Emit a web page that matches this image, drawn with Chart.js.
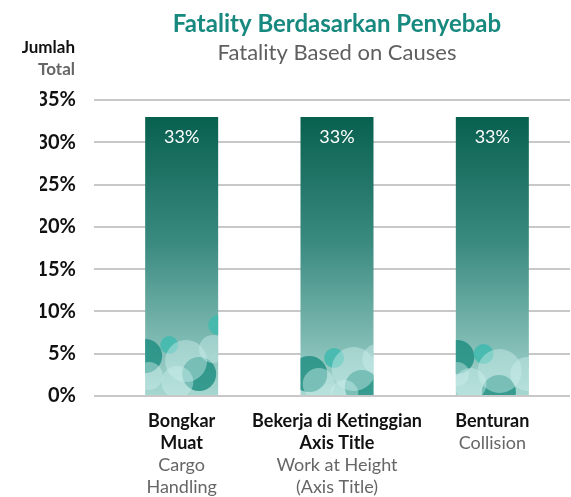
<!DOCTYPE html>
<html>
<head>
<meta charset="utf-8">
<style>
  html, body { margin: 0; background: #fff; }
  #wrap { width: 571px; height: 497px; }
</style>
<script src="https://cdn.jsdelivr.net/npm/chart.js@4/dist/chart.umd.min.js"></script>
</head>
<body>
<div id="wrap"><canvas id="fatalityChart"></canvas></div>
<script>
// categories: Indonesian (bold) and English (grey) lines under each bar
const causesId = [["Bongkar", "Muat"], ["Bekerja di Ketinggian", "Axis Title"], ["Benturan"]];
const causesEn = [["Cargo", "Handling"], ["Work at Height", "(Axis Title)"], ["Collision"]];
const fatalityShare = [33, 33, 33];
const yMax = 35;
const yStep = 5;

const titleId = "Fatality Berdasarkan Penyebab";
const titleEn = "Fatality Based on Causes";

const FONT = "Lato";

// decorative bubbles at the foot of each bar (fx = share of bar width from centre, dy = px above base)
const DARK = "rgba(28,140,128,0.8)";
const BRIGHT = "rgba(64,186,174,0.85)";
const LIGHT = "rgba(205,238,234,0.45)";
const bubbleSets = [
  [
    { fx: 0.5, dy: 70, r: 10, c: BRIGHT },
    { fx: -0.5, dy: 39, r: 17, c: DARK },
    { fx: -0.17, dy: 50, r: 9, c: BRIGHT },
    { fx: 0.24, dy: 21, r: 17, c: DARK },
    { fx: 0.06, dy: 34, r: 21, c: LIGHT },
    { fx: 0.43, dy: 46, r: 14, c: LIGHT },
    { fx: -0.06, dy: 13, r: 16, c: LIGHT },
    { fx: -0.45, dy: 19, r: 14, c: LIGHT }
  ],
  [
    { fx: -0.38, dy: 21, r: 18, c: DARK },
    { fx: -0.04, dy: 37, r: 10, c: BRIGHT },
    { fx: 0.34, dy: 8, r: 17, c: DARK },
    { fx: 0.23, dy: 26, r: 22, c: LIGHT },
    { fx: 0.55, dy: 36, r: 15, c: LIGHT },
    { fx: -0.25, dy: 11, r: 16, c: LIGHT },
    { fx: 0.1, dy: 1, r: 14, c: LIGHT }
  ],
  [
    { fx: -0.48, dy: 38, r: 17, c: DARK },
    { fx: -0.12, dy: 41, r: 10, c: BRIGHT },
    { fx: 0.09, dy: 3, r: 17, c: DARK },
    { fx: 0.1, dy: 24, r: 22, c: LIGHT },
    { fx: 0.48, dy: 21, r: 17, c: LIGHT },
    { fx: -0.3, dy: 11, r: 16, c: LIGHT },
    { fx: -0.48, dy: 21, r: 12, c: LIGHT }
  ]
];

function barGradient(context) {
  const chart = context.chart;
  const { ctx, chartArea, scales } = chart;
  if (!chartArea) return "#3f8f85";
  const top = scales.y.getPixelForValue(fatalityShare[context.dataIndex] || 0);
  const bottom = scales.y.getPixelForValue(0);
  const g = ctx.createLinearGradient(0, top, 0, bottom);
  g.addColorStop(0, "#08604f");
  g.addColorStop(0.45, "#3a8a80");
  g.addColorStop(0.78, "#7ab7af");
  g.addColorStop(1, "#a6d8d1");
  return g;
}

const decorations = {
  id: "decorations",
  afterDatasetsDraw(chart) {
    const ctx = chart.ctx;
    const meta = chart.getDatasetMeta(0);
    meta.data.forEach((bar, i) => {
      const { x, y, base, width } = bar.getProps(["x", "y", "base", "width"], true);
      const left = x - width / 2;
      ctx.save();
      ctx.beginPath();
      ctx.rect(left, y, width, base - y);
      ctx.clip();
      (bubbleSets[i] || []).forEach(b => {
        ctx.beginPath();
        ctx.arc(x + b.fx * width, base - b.dy, b.r, 0, Math.PI * 2);
        ctx.fillStyle = b.c;
        ctx.fill();
      });
      ctx.restore();

      // value label near the top of the bar
      ctx.save();
      ctx.fillStyle = "#ffffff";
      ctx.font = "18px " + FONT;
      ctx.textAlign = "center";
      ctx.textBaseline = "middle";
      ctx.fillText(fatalityShare[i] + "%", x, y + 20);
      ctx.restore();
    });
  },
  afterDraw(chart) {
    const ctx = chart.ctx;
    const area = chart.chartArea;
    const xs = chart.scales.x;
    ctx.save();

    // two-language title centred over the plot area
    const tx = (area.left + area.right) / 2;
    ctx.textAlign = "center";
    ctx.textBaseline = "alphabetic";
    ctx.font = "bold 24px " + FONT;
    ctx.fillStyle = "#17897f";
    ctx.fillText(titleId, tx, area.top - 68);
    ctx.font = "22px " + FONT;
    ctx.fillStyle = "#5f5f5f";
    ctx.fillText(titleEn, tx, area.top - 40);

    // category labels
    ctx.textBaseline = "middle";
    causesId.forEach((lines, i) => {
      const cx = xs.getPixelForValue(i);
      let ly = area.bottom + 25;
      ctx.font = "bold 18px " + FONT;
      ctx.fillStyle = "#111111";
      lines.forEach(t => { ctx.fillText(t, cx, ly); ly += 22; });
      ctx.font = "18px " + FONT;
      ctx.fillStyle = "#666666";
      causesEn[i].forEach(t => { ctx.fillText(t, cx, ly); ly += 22; });
    });

    // y axis heading
    ctx.textAlign = "right";
    ctx.font = "bold 17px " + FONT;
    ctx.fillStyle = "#111111";
    ctx.fillText("Jumlah", area.left - 29, area.top - 52);
    ctx.fillStyle = "#666666";
    ctx.fillText("Total", area.left - 29, area.top - 30);
    ctx.restore();
  }
};

new Chart(document.getElementById("fatalityChart"), {
  type: "bar",
  data: {
    labels: causesId.map(l => l.join(" ")),
    datasets: [{
      data: fatalityShare,
      backgroundColor: barGradient,
      borderWidth: 0,
      categoryPercentage: 1,
      barPercentage: 0.47
    }]
  },
  plugins: [decorations],
  options: {
    responsive: true,
    maintainAspectRatio: false,
    animation: false,
    layout: {
      padding: { top: 100, left: 40, right: 1, bottom: 101 }
    },
    scales: {
      x: {
        display: false
      },
      y: {
        min: 0,
        max: yMax,
        afterFit(scale) { scale.width = 64; },
        border: { display: false },
        grid: {
          color: "#c8c8c8",
          lineWidth: 2,
          tickLength: 10,
          drawTicks: true
        },
        ticks: {
          stepSize: yStep,
          padding: 18,
          color: "#111111",
          font: { family: FONT, size: 20, weight: "bold" },
          callback: v => v + "%"
        }
      }
    },
    plugins: {
      legend: { display: false },
      tooltip: { enabled: false },
      title: { display: false }
    }
  }
});
</script>
</body>
</html>
